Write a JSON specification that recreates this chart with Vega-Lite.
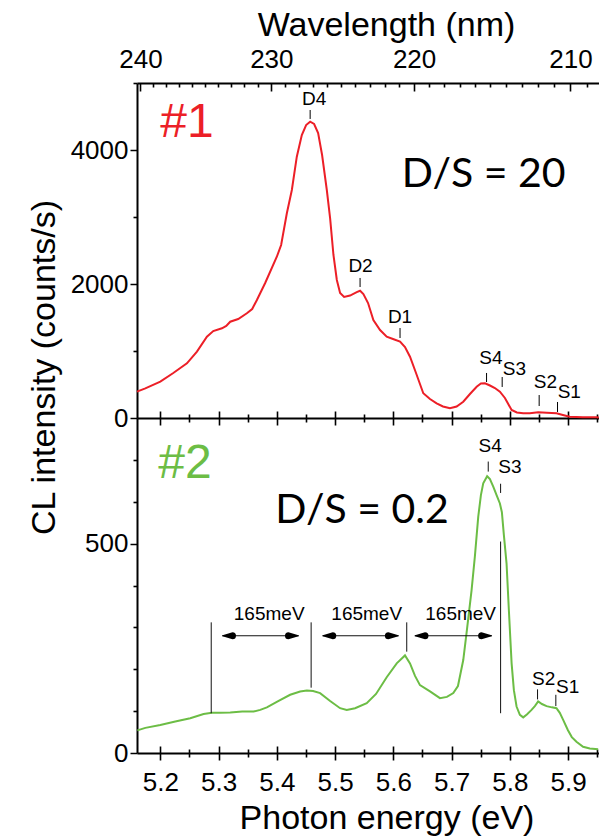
{
"$schema": "https://vega.github.io/schema/vega-lite/v6.json",
"width": 462, "height": 670,
"autosize": {"type": "none"},
"padding": {"left": 137, "top": 83, "right": 0, "bottom": 83},
"config": {"view": {"stroke": null},
 "axis": {"grid": false, "domainColor": "#000", "tickColor": "#000", "labelColor": "#000", "titleColor": "#000", "labelFont": "Liberation Sans", "titleFont": "Liberation Sans", "labelFontSize": 26, "titleFontSize": 34, "titleFontWeight": "normal", "domainWidth": 2, "tickWidth": 1.5, "labelFlush": false, "labelOverlap": false}},
"datasets": {
 "top": [
  {"E":5.1600,"I":393},{"E":5.1743,"I":443},{"E":5.2000,"I":542},{"E":5.2223,"I":672},{"E":5.2457,"I":816},{"E":5.2629,"I":990},{"E":5.2800,"I":1213},{"E":5.2909,"I":1298},{"E":5.3058,"I":1339},{"E":5.3132,"I":1373},{"E":5.3200,"I":1437},{"E":5.3337,"I":1478},{"E":5.3486,"I":1563},{"E":5.3577,"I":1627},{"E":5.3658,"I":1761},{"E":5.3800,"I":2015},{"E":5.4000,"I":2407},{"E":5.4074,"I":2582},{"E":5.4172,"I":3055},{"E":5.4258,"I":3403},{"E":5.4343,"I":3900},{"E":5.4429,"I":4224},{"E":5.4503,"I":4373},{"E":5.4572,"I":4422},{"E":5.4640,"I":4388},{"E":5.4709,"I":4254},{"E":5.4777,"I":3925},{"E":5.4858,"I":3403},{"E":5.4915,"I":2980},{"E":5.4972,"I":2433},{"E":5.5030,"I":2060},{"E":5.5086,"I":1866},{"E":5.5155,"I":1806},{"E":5.5257,"I":1828},{"E":5.5372,"I":1880},{"E":5.5429,"I":1900},{"E":5.5486,"I":1851},{"E":5.5566,"I":1716},{"E":5.5657,"I":1463},{"E":5.5772,"I":1313},{"E":5.5886,"I":1213},{"E":5.5994,"I":1179},{"E":5.6115,"I":1139},{"E":5.6200,"I":1060},{"E":5.6286,"I":915},{"E":5.6389,"I":672},{"E":5.6514,"I":369},{"E":5.6629,"I":284},{"E":5.6743,"I":219},{"E":5.6852,"I":172},{"E":5.6972,"I":145},{"E":5.7086,"I":172},{"E":5.7200,"I":243},{"E":5.7315,"I":358},{"E":5.7430,"I":467},{"E":5.7503,"I":515},{"E":5.7572,"I":518},{"E":5.7658,"I":485},{"E":5.7743,"I":448},{"E":5.7829,"I":393},{"E":5.7915,"I":299},{"E":5.8030,"I":119},{"E":5.8120,"I":82},{"E":5.8229,"I":70},{"E":5.8343,"I":70},{"E":5.8486,"I":85},{"E":5.8635,"I":79},{"E":5.8800,"I":70},{"E":5.8909,"I":45},{"E":5.9029,"I":19},{"E":5.9252,"I":12},{"E":5.9486,"I":10},{"E":5.9526,"I":7}
 ],
 "bottom": [
  {"E":5.1606,"I":54},{"E":5.1743,"I":60},{"E":5.2000,"I":67},{"E":5.2257,"I":75},{"E":5.2514,"I":83},{"E":5.2743,"I":93},{"E":5.2886,"I":96},{"E":5.3029,"I":96},{"E":5.3200,"I":97},{"E":5.3406,"I":99},{"E":5.3600,"I":99},{"E":5.3715,"I":103},{"E":5.3829,"I":109},{"E":5.4023,"I":124},{"E":5.4229,"I":139},{"E":5.4400,"I":147},{"E":5.4515,"I":149},{"E":5.4623,"I":148},{"E":5.4743,"I":143},{"E":5.4915,"I":124},{"E":5.5086,"I":107},{"E":5.5200,"I":103},{"E":5.5343,"I":107},{"E":5.5543,"I":119},{"E":5.5703,"I":141},{"E":5.5886,"I":181},{"E":5.6058,"I":214},{"E":5.6200,"I":233},{"E":5.6286,"I":214},{"E":5.6372,"I":184},{"E":5.6457,"I":162},{"E":5.6629,"I":147},{"E":5.6800,"I":131},{"E":5.6920,"I":134},{"E":5.7029,"I":143},{"E":5.7109,"I":160},{"E":5.7200,"I":222},{"E":5.7263,"I":294},{"E":5.7343,"I":389},{"E":5.7400,"I":470},{"E":5.7457,"I":564},{"E":5.7503,"I":616},{"E":5.7543,"I":644},{"E":5.7610,"I":661},{"E":5.7658,"I":654},{"E":5.7715,"I":636},{"E":5.7777,"I":614},{"E":5.7829,"I":596},{"E":5.7863,"I":575},{"E":5.7897,"I":521},{"E":5.7943,"I":453},{"E":5.7983,"I":341},{"E":5.8030,"I":214},{"E":5.8069,"I":150},{"E":5.8115,"I":111},{"E":5.8172,"I":91},{"E":5.8229,"I":85},{"E":5.8292,"I":92},{"E":5.8372,"I":103},{"E":5.8429,"I":112},{"E":5.8486,"I":123},{"E":5.8550,"I":117},{"E":5.8630,"I":112},{"E":5.8721,"I":109},{"E":5.8800,"I":107},{"E":5.8857,"I":96},{"E":5.8915,"I":79},{"E":5.8995,"I":55},{"E":5.9063,"I":38},{"E":5.9143,"I":27},{"E":5.9257,"I":15},{"E":5.9372,"I":11},{"E":5.9515,"I":9}
 ],
 "topLabels": [
  {"label":"D4","E":5.464,"I":4672},{"label":"D2","E":5.5437,"I":2179},{"label":"D1","E":5.6115,"I":1418},{"label":"S4","E":5.7675,"I":806},{"label":"S3","E":5.8078,"I":642},{"label":"S2","E":5.8609,"I":448},{"label":"S1","E":5.902,"I":299}
 ],
 "topTicks": [
  {"E":5.4572,"I1":4463,"I2":4597},{"E":5.5429,"I1":1955,"I2":2090},{"E":5.6115,"I1":1194,"I2":1343},{"E":5.760,"I1":537,"I2":672},{"E":5.7868,"I1":463,"I2":612},{"E":5.8503,"I1":179,"I2":343},{"E":5.8818,"I1":90,"I2":239}
 ],
 "botLabels": [
  {"label":"S4","E":5.7663,"I":719},{"label":"S3","E":5.800,"I":669},{"label":"S2","E":5.858,"I":162},{"label":"S1","E":5.8991,"I":143},
  {"label":"165meV","E":5.3869,"I":318},{"label":"165meV","E":5.5543,"I":318},{"label":"165meV","E":5.7155,"I":318}
 ],
 "botRules": [
  {"Ea":5.7629,"Eb":5.7629,"Ia":672,"Ib":696},{"Ea":5.7841,"Eb":5.7841,"Ia":621,"Ib":643},{"Ea":5.8475,"Eb":5.8475,"Ia":128,"Ib":152},{"Ea":5.8789,"Eb":5.8789,"Ia":112,"Ib":139},
  {"Ea":5.2874,"Eb":5.2874,"Ia":95,"Ib":312},{"Ea":5.4589,"Eb":5.4589,"Ia":156,"Ib":312},{"Ea":5.623,"Eb":5.623,"Ia":242,"Ib":312},{"Ea":5.7841,"Eb":5.7841,"Ia":95,"Ib":505},
  {"Ea":5.3068,"Eb":5.4371,"Ia":280,"Ib":280},{"Ea":5.4789,"Eb":5.6086,"Ia":280,"Ib":280},{"Ea":5.6372,"Eb":5.7686,"Ia":280,"Ib":280}
 ],
 "heads": [
  {"h":"1L","part":"tip","E":5.3068,"I":280},{"h":"1L","part":"base","E":5.3239,"I":280},
  {"h":"1R","part":"tip","E":5.4371,"I":280},{"h":"1R","part":"base","E":5.4200,"I":280},
  {"h":"2L","part":"tip","E":5.4789,"I":280},{"h":"2L","part":"base","E":5.4960,"I":280},
  {"h":"2R","part":"tip","E":5.6086,"I":280},{"h":"2R","part":"base","E":5.5915,"I":280},
  {"h":"3L","part":"tip","E":5.6372,"I":280},{"h":"3L","part":"base","E":5.6543,"I":280},
  {"h":"3R","part":"tip","E":5.7686,"I":280},{"h":"3R","part":"base","E":5.7515,"I":280}
 ],
 "tag1": [{"text":"#1","E":5.2,"I":4194}],
 "ds1": [{"text":"D/S = 20","E":5.6143,"I":3448}],
 "tag2": [{"text":"#2","E":5.1966,"I":657}],
 "ds2": [{"text":"D/S = 0.2","E":5.3972,"I":549}]
},
"resolve": {"scale": {"y": "independent", "size": "independent"}, "axis": {"x": "independent", "y": "independent"}},
"layer": [
 {"data": {"name": "top"}, "mark": {"type": "line", "color": "#ec1f27", "strokeWidth": 2},
  "encoding": {
   "x": {"field": "E", "type": "quantitative", "scale": {"domain": [5.16, 5.953], "nice": false, "zero": false},
     "axis": {"orient": "top", "values": [5.166, 5.3906, 5.6356, 5.904], "labelExpr": "format(1239.84/datum.value, '.0f')", "ticks": false, "domain": true, "labelPadding": 16, "labelBaseline": "alphabetic", "title": "Wavelength (nm)", "titleX": 249, "titleY": -48, "titleBaseline": "alphabetic", "titleAlign": "center"}},
   "y": {"field": "I", "type": "quantitative", "scale": {"domain": [0, 5000], "range": [335, 0], "nice": false, "zero": false},
     "axis": {"orient": "left", "values": [0, 2000, 4000], "format": "d", "tickSize": 7, "labelPadding": 2, "domain": true, "title": "CL intensity (counts/s)", "titleX": -93, "titleY": 284, "titleAngle": -90, "titleAlign": "center", "titleBaseline": "middle"}}
  }},
 {"data": {"name": "bottom"}, "mark": {"type": "line", "color": "#6cbd45", "strokeWidth": 2},
  "encoding": {
   "x": {"field": "E", "type": "quantitative", "scale": {"domain": [5.16, 5.953], "nice": false, "zero": false},
     "axis": {"orient": "bottom", "values": [5.2, 5.3, 5.4, 5.5, 5.6, 5.7, 5.8, 5.9], "format": ".1f", "ticks": false, "domain": true, "labelPadding": 37, "labelBaseline": "alphabetic", "title": "Photon energy (eV)", "titleX": 249.5, "titleY": 75, "titleBaseline": "alphabetic", "titleAlign": "center"}},
   "y": {"field": "I", "type": "quantitative", "scale": {"domain": [0, 800], "range": [670, 335], "nice": false, "zero": false},
     "axis": {"orient": "left", "values": [0, 500], "format": "d", "tickSize": 7, "labelPadding": 2, "domain": true, "title": null}}
  }},
 {"data": {"name": "topLabels"}, "mark": {"type": "text", "fontSize": 19, "baseline": "alphabetic", "font": "Liberation Sans"},
  "encoding": {
   "x": {"field": "E", "type": "quantitative", "scale": {"domain": [5.16, 5.953], "nice": false, "zero": false},
     "axis": {"orient": "top", "values": [5.166, 5.3906, 5.6356, 5.904], "labels": false, "domain": false, "tickSize": 8, "offset": -8, "title": null, "tickColor": "black", "tickWidth": 1.6}},
   "y": {"field": "I", "type": "quantitative", "scale": {"domain": [0, 5000], "range": [335, 0], "nice": false, "zero": false},
     "axis": {"orient": "left", "values": [1000, 3000, 5000], "labels": false, "domain": false, "tickSize": 4, "title": null, "tickColor": "black", "tickWidth": 1.6}},
   "text": {"field": "label"}
  }},
 {"data": {"name": "topTicks"}, "mark": {"type": "rule", "color": "#000"},
  "encoding": {
   "x": {"field": "E", "type": "quantitative", "scale": {"domain": [5.16, 5.953], "nice": false, "zero": false},
     "axis": {"orient": "top", "values": [5.1876, 5.2094, 5.2314, 5.2536, 5.2759, 5.2985, 5.3212, 5.3441, 5.3673, 5.4142, 5.4379, 5.4619, 5.4860, 5.5104, 5.5350, 5.5598, 5.5849, 5.6102, 5.6614, 5.6874, 5.7136, 5.7400, 5.7667, 5.7936, 5.8209, 5.8483, 5.8760, 5.9323], "labels": false, "domain": false, "tickSize": 4, "offset": -4, "title": null, "tickColor": "black", "tickWidth": 1.6}},
   "y": {"field": "I1", "type": "quantitative", "scale": {"domain": [0, 5000], "range": [335, 0], "nice": false, "zero": false}, "axis": null},
   "y2": {"field": "I2"}
  }},
 {"data": {"name": "botLabels"}, "mark": {"type": "text", "fontSize": 19, "baseline": "alphabetic", "font": "Liberation Sans"},
  "encoding": {
   "x": {"field": "E", "type": "quantitative", "scale": {"domain": [5.16, 5.953], "nice": false, "zero": false},
     "axis": {"orient": "bottom", "values": [5.2, 5.3, 5.4, 5.5, 5.6, 5.7, 5.8, 5.9], "labels": false, "domain": false, "tickSize": 14, "offset": -342, "title": null, "tickColor": "black", "tickWidth": 1.6}},
   "y": {"field": "I", "type": "quantitative", "scale": {"domain": [0, 800], "range": [670, 335], "nice": false, "zero": false},
     "axis": {"orient": "left", "values": [100, 200, 300, 400, 600, 700], "labels": false, "domain": false, "tickSize": 4, "title": null, "tickColor": "black", "tickWidth": 1.6}},
   "text": {"field": "label"}
  }},
 {"data": {"name": "botRules"}, "mark": {"type": "rule", "color": "#111"},
  "encoding": {
   "x": {"field": "Ea", "type": "quantitative", "scale": {"domain": [5.16, 5.953], "nice": false, "zero": false},
     "axis": {"orient": "bottom", "values": [5.25, 5.35, 5.45, 5.55, 5.65, 5.75, 5.85, 5.95], "labels": false, "domain": false, "tickSize": 8, "offset": -339, "title": null, "tickColor": "black", "tickWidth": 1.6}},
   "x2": {"field": "Eb"},
   "y": {"field": "Ia", "type": "quantitative", "scale": {"domain": [0, 800], "range": [670, 335], "nice": false, "zero": false}, "axis": null},
   "y2": {"field": "Ib"}
  }},
 {"data": {"name": "heads"}, "mark": {"type": "trail", "color": "#000"},
  "encoding": {
   "x": {"field": "E", "type": "quantitative", "scale": {"domain": [5.16, 5.953], "nice": false, "zero": false},
     "axis": {"orient": "bottom", "values": [5.2, 5.3, 5.4, 5.5, 5.6, 5.7, 5.8, 5.9], "labels": false, "domain": false, "tickSize": 14, "offset": -7, "title": null, "tickColor": "black", "tickWidth": 1.6}},
   "y": {"field": "I", "type": "quantitative", "scale": {"domain": [0, 800], "range": [670, 335], "nice": false, "zero": false}, "axis": null},
   "detail": {"field": "h", "type": "nominal"},
   "size": {"field": "part", "type": "ordinal", "scale": {"domain": ["tip", "base"], "range": [0, 7]}, "legend": null}
  }},
 {"data": {"name": "tag1"}, "mark": {"type": "text", "font": "Liberation Sans", "fontSize": 48, "align": "left", "baseline": "alphabetic", "color": "#ec1f27"},
  "encoding": {
   "x": {"field": "E", "type": "quantitative", "scale": {"domain": [5.16, 5.953], "nice": false, "zero": false},
     "axis": {"orient": "bottom", "values": [5.25, 5.35, 5.45, 5.55, 5.65, 5.75, 5.85, 5.95], "labels": false, "domain": false, "tickSize": 8, "offset": -4, "title": null, "tickColor": "black", "tickWidth": 1.6}},
   "y": {"field": "I", "type": "quantitative", "scale": {"domain": [0, 5000], "range": [335, 0], "nice": false, "zero": false}, "axis": null},
   "text": {"field": "text"}
  }},
 {"data": {"name": "ds1"}, "mark": {"type": "text", "font": "Lato", "fontSize": 41, "align": "left", "baseline": "alphabetic", "color": "#000"},
  "encoding": {
   "x": {"field": "E", "type": "quantitative", "scale": {"domain": [5.16, 5.953], "nice": false, "zero": false},
     "axis": {"orient": "bottom", "values": [5.5], "labels": false, "ticks": false, "domain": true, "offset": -335, "title": null}},
   "y": {"field": "I", "type": "quantitative", "scale": {"domain": [0, 5000], "range": [335, 0], "nice": false, "zero": false}, "axis": null},
   "text": {"field": "text"}
  }},
 {"data": {"name": "tag2"}, "mark": {"type": "text", "font": "Liberation Sans", "fontSize": 48, "align": "left", "baseline": "alphabetic", "color": "#6cbd45"},
  "encoding": {
   "x": {"field": "E", "type": "quantitative", "scale": {"domain": [5.16, 5.953], "nice": false, "zero": false}, "axis": null},
   "y": {"field": "I", "type": "quantitative", "scale": {"domain": [0, 800], "range": [670, 335], "nice": false, "zero": false}, "axis": null},
   "text": {"field": "text"}
  }},
 {"data": {"name": "ds2"}, "mark": {"type": "text", "font": "Lato", "fontSize": 41, "align": "left", "baseline": "alphabetic", "color": "#000"},
  "encoding": {
   "x": {"field": "E", "type": "quantitative", "scale": {"domain": [5.16, 5.953], "nice": false, "zero": false}, "axis": null},
   "y": {"field": "I", "type": "quantitative", "scale": {"domain": [0, 800], "range": [670, 335], "nice": false, "zero": false}, "axis": null},
   "text": {"field": "text"}
  }}
]
}
